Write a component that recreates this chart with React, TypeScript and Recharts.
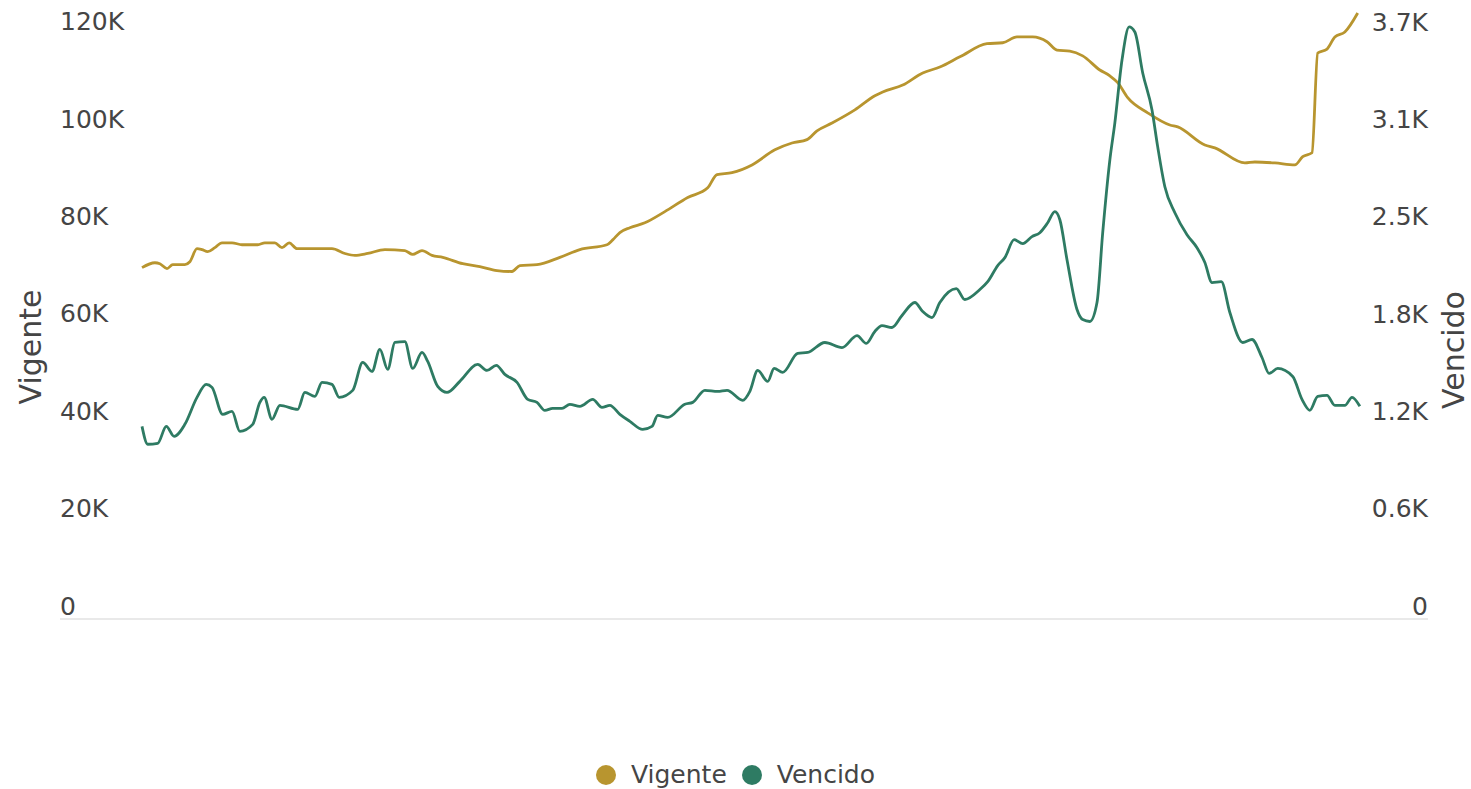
import { Line, LineChart, XAxis, YAxis } from "recharts";

const GOLD = "#B8952F";
const GREEN = "#2E7B63";
const TEXT = "#454545";
const FONT = "'DejaVu Sans', sans-serif";

// dias desde el inicio del periodo
const VIGENTE_DIAS = [
  0, 18, 25, 35, 43, 60, 67, 77, 84, 92, 102, 112, 126, 140, 162, 172, 186, 196, 206, 217,
  266, 284, 298, 316, 340, 368, 379, 392, 406, 421, 449, 473, 497, 518, 529, 553, 585, 613,
  651, 659, 669, 683, 704, 732, 764, 792, 805, 826, 854, 886, 910, 931, 945, 966, 998, 1026,
  1037, 1065, 1093, 1117, 1145, 1183, 1205, 1225, 1247, 1267, 1281, 1299, 1317, 1341, 1355,
  1366, 1380, 1408, 1439, 1450, 1488, 1502, 1544, 1558, 1586, 1614, 1625, 1638, 1646, 1659,
  1670, 1684, 1702,
];
const VIGENTE = [
  72200, 73200, 73000, 72000, 72800, 72800, 73400, 76100, 75900, 75500, 76300, 77300, 77300,
  76900, 76900, 77300, 77300, 76300, 77300, 76100, 76100, 75100, 74700, 75100, 75900, 75700,
  74900, 75700, 74700, 74300, 73000, 72400, 71600, 71400, 72600, 72800, 74300, 75900, 76900,
  77900, 79400, 80400, 81400, 83700, 86600, 88600, 91300, 91700, 93300, 96400, 97800, 98500,
  100300, 101900, 104600, 107500, 108300, 109700, 112200, 113400, 115500, 118200, 118400,
  119600, 119600, 118600, 116900, 116700, 115700, 112800, 111600, 110200, 107100, 104000,
  101500, 101100, 97400, 96800, 93700, 93900, 93700, 93300, 95000, 95800, 116300, 117100,
  119600, 120600, 124500,
];

const VENCIDO_DIAS = [
  0, 8, 22, 34, 45, 60, 77, 90, 98, 113, 126, 137, 155, 165, 171, 182, 193, 218, 228, 242,
  252, 266, 276, 295, 309, 322, 333, 344, 354, 368, 379, 392, 400, 414, 427, 445, 470, 483,
  496, 508, 525, 540, 553, 564, 575, 588, 599, 613, 631, 644, 655, 669, 683, 701, 714, 722,
  736, 760, 771, 788, 806, 819, 841, 851, 862, 876, 885, 897, 918, 932, 956, 980, 1001, 1014,
  1026, 1036, 1050, 1064, 1082, 1093, 1106, 1117, 1140, 1152, 1173, 1184, 1198, 1208, 1221,
  1233, 1246, 1257, 1268, 1278, 1285, 1295, 1309, 1317, 1327, 1337, 1345, 1355, 1362, 1372,
  1382, 1390, 1401, 1414, 1422, 1432, 1446, 1463, 1477, 1488, 1498, 1511, 1523, 1541, 1554,
  1568, 1578, 1590, 1611, 1624, 1635, 1646, 1659, 1670, 1684, 1694, 1705,
];
const VENCIDO = [
  1219, 1106, 1112, 1219, 1156, 1232, 1403, 1485, 1466, 1295, 1314, 1188, 1232, 1371, 1403,
  1264, 1352, 1327, 1434, 1409, 1497, 1485, 1403, 1447, 1624, 1567, 1706, 1580, 1750, 1756,
  1586, 1687, 1630, 1472, 1434, 1504, 1611, 1573, 1605, 1548, 1498, 1390, 1371, 1320, 1333,
  1333, 1358, 1346, 1390, 1339, 1352, 1295, 1251, 1200, 1219, 1289, 1276, 1359, 1371, 1447,
  1440, 1447, 1384, 1441, 1573, 1504, 1586, 1561, 1681, 1687, 1750, 1718, 1794, 1744, 1820,
  1857, 1845, 1921, 2003, 1946, 1908, 2003, 2091, 2022, 2085, 2135, 2237, 2287, 2401, 2376,
  2420, 2445, 2508, 2578, 2527, 2274, 1959, 1895, 1883, 2003, 2445, 2906, 3140, 3538, 3747,
  3715, 3456, 3222, 2988, 2736, 2571, 2432, 2350, 2256, 2129, 2135, 1940, 1750, 1769, 1655,
  1554, 1586, 1535, 1390, 1321, 1409, 1415, 1352, 1352, 1403, 1346,
];

const LEFT_TICKS = [0, 20000, 40000, 60000, 80000, 100000, 120000];
const RIGHT_TICKS = [0, 616, 1232, 1848, 2464, 3080, 3696];
const SERIES = [
  { key: "vigente", name: "Vigente", color: GOLD },
  { key: "vencido", name: "Vencido", color: GREEN },
];

type Row = { dia: number; vigente?: number; vencido?: number };

function buildData(): Row[] {
  const rows = new Map<number, Row>();
  VIGENTE_DIAS.forEach((d, i) => {
    rows.set(d, { ...(rows.get(d) || { dia: d }), vigente: VIGENTE[i] });
  });
  VENCIDO_DIAS.forEach((d, i) => {
    rows.set(d, { ...(rows.get(d) || { dia: d }), vencido: VENCIDO[i] });
  });
  return Array.from(rows.values()).sort((a, b) => a.dia - b.dia);
}

const data = buildData();

function LeftTick(props: any) {
  const v = props.payload.value as number;
  return (
    <text x={60} y={props.y - 13} textAnchor="start" dominantBaseline="central" fill={TEXT} fontSize={25} fontFamily={FONT}>
      {v === 0 ? "0" : `${v / 1000}K`}
    </text>
  );
}

function RightTick(props: any) {
  const v = props.payload.value as number;
  return (
    <text x={1428} y={props.y - 13} textAnchor="end" dominantBaseline="central" fill={TEXT} fontSize={25} fontFamily={FONT}>
      {v === 0 ? "0" : `${(Math.round(v / 100) / 10).toFixed(1)}K`}
    </text>
  );
}

export default function App() {
  return (
    <div style={{ position: "absolute", left: 0, top: 0, width: 1471, height: 789, background: "#fff", fontFamily: FONT }}>
      <LineChart width={1471} height={789} data={data} margin={{ top: 11, right: 42, bottom: 169, left: 59 }}>
        <XAxis
          type="number"
          dataKey="dia"
          domain={[0, 1708]}
          padding={{ left: 82, right: 66 }}
          tick={false}
          tickLine={false}
          axisLine={{ stroke: "#e2e2e2", strokeWidth: 1.5 }}
          height={1}
        />
        <YAxis
          yAxisId="left"
          domain={[0, 124923]}
          ticks={LEFT_TICKS}
          tick={<LeftTick />}
          axisLine={false}
          tickLine={false}
          width={1}
        />
        <YAxis
          yAxisId="right"
          orientation="right"
          domain={[0, 3848]}
          ticks={RIGHT_TICKS}
          tick={<RightTick />}
          axisLine={false}
          tickLine={false}
          width={1}
        />
        <Line
          yAxisId="left"
          dataKey="vigente"
          name="Vigente"
          type="monotone"
          stroke={GOLD}
          strokeWidth={2.8}
          dot={false}
          connectNulls
          isAnimationActive={false}
        />
        <Line
          yAxisId="right"
          dataKey="vencido"
          name="Vencido"
          type="monotone"
          stroke={GREEN}
          strokeWidth={2.8}
          dot={false}
          connectNulls
          isAnimationActive={false}
        />
        <text x={30} y={347} transform="rotate(-90 30 347)" textAnchor="middle" dominantBaseline="central" fill={TEXT} fontSize={30} fontFamily={FONT}>
          Vigente
        </text>
        <text x={1453} y={350} transform="rotate(-90 1453 350)" textAnchor="middle" dominantBaseline="central" fill={TEXT} fontSize={30} fontFamily={FONT}>
          Vencido
        </text>
      </LineChart>
      <div
        style={{
          position: "absolute",
          left: 0,
          top: 760,
          width: 1471,
          display: "flex",
          justifyContent: "center",
          alignItems: "center",
          gap: 15,
          fontSize: 25,
          color: TEXT,
        }}
      >
        {SERIES.map((s) => (
          <div key={s.key} style={{ display: "flex", alignItems: "center", gap: 15 }}>
            <span style={{ width: 20, height: 20, borderRadius: 10, background: s.color, display: "inline-block" }} />
            <span>{s.name}</span>
          </div>
        ))}
      </div>
    </div>
  );
}
